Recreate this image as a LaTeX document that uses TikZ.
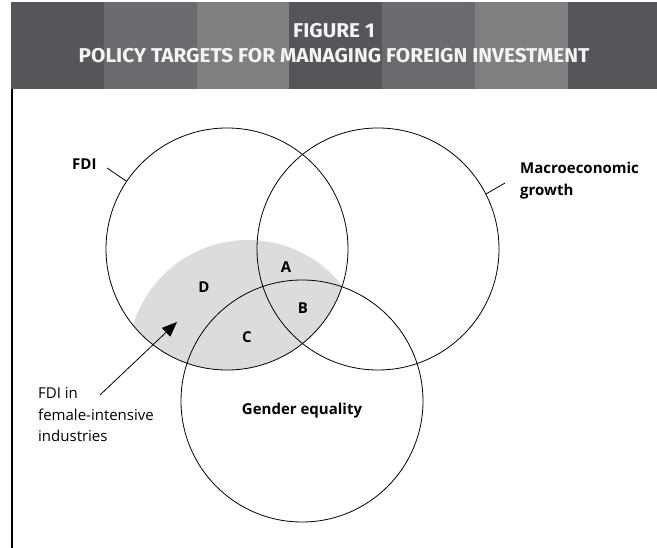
\documentclass[tikz,border=0pt]{standalone}
\usepackage{fontspec}
\setmainfont{Open Sans}
\newfontfamily\headfont[FakeStretch=1.04]{Fira Sans}
\usetikzlibrary{arrows.meta,backgrounds}
\definecolor{stripedark}{HTML}{55565A}
\definecolor{stripemid}{HTML}{6A6B6F}
\definecolor{stripelight}{HTML}{808083}
\definecolor{shadegray}{HTML}{DCDCDE}
\definecolor{headtext}{HTML}{F4F4F4}
\tikzset{
  setcircle/.style={draw, circle, minimum size=242pt, inner sep=0pt, line width=0.8pt},
  setlabel/.style={font=\fontsize{15}{22}\selectfont\bfseries, inner sep=0pt},
  notelabel/.style={font=\fontsize{15}{21.5}\selectfont, align=left, inner sep=0pt},
  leader/.style={line width=0.8pt}
}

\begin{document}
\begin{tikzpicture}[x=1pt, y=-1pt]
  \useasboundingbox (0,0) rectangle (657,548);
  % header band
  \foreach \xa/\xb/\col in {11/104/stripedark, 104/197/stripemid, 197/289/stripelight,
      289/382/stripedark, 382/475/stripemid, 475/568/stripelight, 568/657/stripedark}
    \fill[\col] (\xa,2) rectangle (\xb,89);
  \node[font=\headfont\bfseries\fontsize{20}{25.5}\selectfont, text=headtext, align=center] (title) at (334,43)
    {FIGURE 1\\POLICY TARGETS FOR MANAGING FOREIGN INVESTMENT};
  \draw[line width=1.2pt] (12,89) -- (12,548);

  % the three sets
  \node[setcircle] (fdi) at (227,249) {};
  \node[setcircle] (macro) at (378,249) {};
  \node[setcircle] (gender) at (302,401) {};

  % female-intensive part of FDI
  \coordinate (shadec) at (248,360);
  \begin{scope}[on background layer]
    \clip (fdi.center) circle (121pt);
    \fill[shadegray] (shadec) circle (120pt);
  \end{scope}

  % set labels
  \node[setlabel, anchor=base west] (fdilbl) at (72,170) {FDI};
  \coordinate (fdilead) at (107,168);
  \draw[leader] (fdilead) -- (fdi.146);
  \node[setlabel, anchor=base west, align=left] (macrolbl) at (520,196) {Macroeconomic\\growth};
  \coordinate (macrolead) at (505,183);
  \draw[leader] (macrolead) -- (macro.27);
  \node[setlabel, anchor=base] (genderlbl) at (302,415) {Gender equality};

  \node[setlabel] (a) at (286,267) {A};
  \node[setlabel] (b) at (303,308) {B};
  \node[setlabel] (c) at (247,337) {C};
  \node[setlabel] (d) at (204,287) {D};

  % note with arrow
  \node[notelabel, anchor=base west] (notelbl) at (38,442) {FDI in\\female-intensive\\industries};
  \coordinate (arrowstart) at (100,395);
  \coordinate (arrowtip) at (177,322);
  \draw[-{Triangle[length=15pt,width=12pt]}, line width=0.8pt] (arrowstart) -- (arrowtip);
\end{tikzpicture}
\end{document}
